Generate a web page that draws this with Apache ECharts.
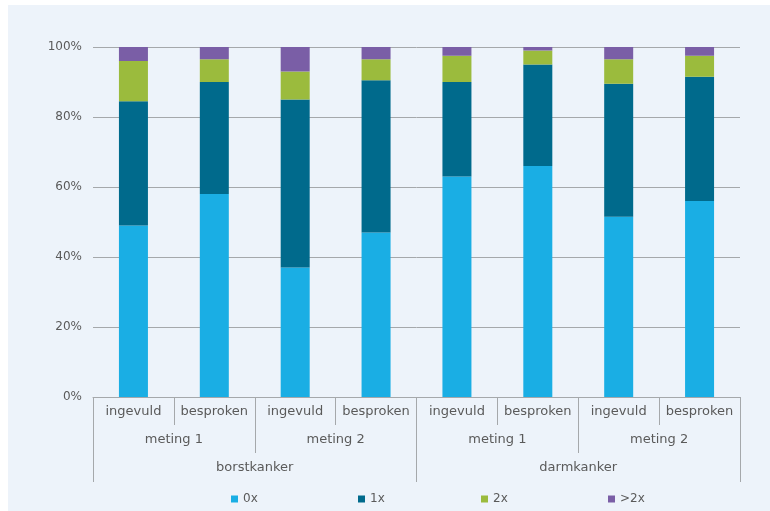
<!DOCTYPE html>
<html>
<head>
<meta charset="utf-8">
<script src="https://cdn.jsdelivr.net/npm/echarts@6/dist/echarts.min.js"></script>
<style>
    html, body { margin: 0; padding: 0; background: #ffffff; }
    #main { position: absolute; left: 8px; top: 5px; width: 762px; height: 506px; background: #edf3fa; }
</style>
</head>
<body>
<div id="main"></div>
<script>
(function () {
    'use strict';

    // categorieen (drie niveaus)
    var vragen = ['ingevuld', 'besproken', 'ingevuld', 'besproken', 'ingevuld', 'besproken', 'ingevuld', 'besproken'];
    var metingen = ['meting 1', 'meting 2', 'meting 1', 'meting 2'];
    var kankers = ['borstkanker', 'darmkanker'];
    var reeksen = ['0x', '1x', '2x', '>2x'];

    // waarden in procent
    var nul = [49, 58, 37, 47, 63, 66, 51.5, 56];
    var een = [35.5, 32, 48, 43.5, 27, 29, 38, 35.5];
    var twee = [11.5, 6.5, 8, 6, 7.5, 4, 7, 6];
    var meer = [4, 3.5, 7, 3.5, 2.5, 1, 3.5, 2.5];

    var yTicks = [0, 20, 40, 60, 80, 100];

    var kleuren = ['#1aaee4', '#006a8c', '#9bbb3d', '#7a5ea6'];
    var lijn = '#a5a8ab';
    var tekst = '#5a5a5a';
    var font = 'DejaVu Sans';

    var myChart = echarts.init(document.getElementById('main'));

    function reeks(naam, data) {
        return {
            name: naam,
            type: 'bar',
            stack: 'totaal',
            barWidth: 29,
            data: data
        };
    }

    // elke legenda-item op zijn eigen plek
    var legendLeft = [218, 345, 468, 595];
    var legends = reeksen.map(function (naam, i) {
        return {
            left: legendLeft[i],
            top: 483,
            itemWidth: 7,
            itemHeight: 7,
            itemGap: 4,
            icon: 'rect',
            textStyle: { color: tekst, fontSize: 12, fontFamily: font },
            data: [naam]
        };
    });

    var option = {
        color: kleuren,
        textStyle: { fontFamily: font },
        legend: legends,
        grid: { left: 85, right: 30, top: 42, bottom: 114 },
        xAxis: [{
            type: 'category',
            data: vragen,
            axisLine: { lineStyle: { color: lijn } },
            axisTick: { show: true, interval: 0, length: 28, lineStyle: { color: lijn } },
            axisLabel: { color: tekst, fontSize: 13, margin: 8, interval: 0 }
        }, {
            type: 'category',
            position: 'bottom',
            offset: 28,
            data: metingen,
            axisLine: { show: false },
            axisTick: { show: true, interval: 0, length: 28, lineStyle: { color: lijn } },
            axisLabel: { color: tekst, fontSize: 13, margin: 8, interval: 0 }
        }, {
            type: 'category',
            position: 'bottom',
            offset: 56,
            data: kankers,
            axisLine: { show: false },
            axisTick: { show: true, interval: 0, length: 29, lineStyle: { color: lijn } },
            axisLabel: { color: tekst, fontSize: 13, margin: 8, interval: 0 }
        }],
        yAxis: {
            type: 'value',
            min: yTicks[0],
            max: yTicks[yTicks.length - 1],
            interval: 20,
            axisLine: { show: false },
            axisTick: { show: false },
            splitLine: { lineStyle: { color: lijn } },
            axisLabel: { color: tekst, fontSize: 12, margin: 11, formatter: '{value}%' }
        },
        series: [
            reeks(reeksen[0], nul),
            reeks(reeksen[1], een),
            reeks(reeksen[2], twee),
            reeks(reeksen[3], meer)
        ]
    };

    myChart.setOption(option);
    window.addEventListener('resize', function () {
        myChart.resize();
    });
})();
</script>
</body>
</html>
